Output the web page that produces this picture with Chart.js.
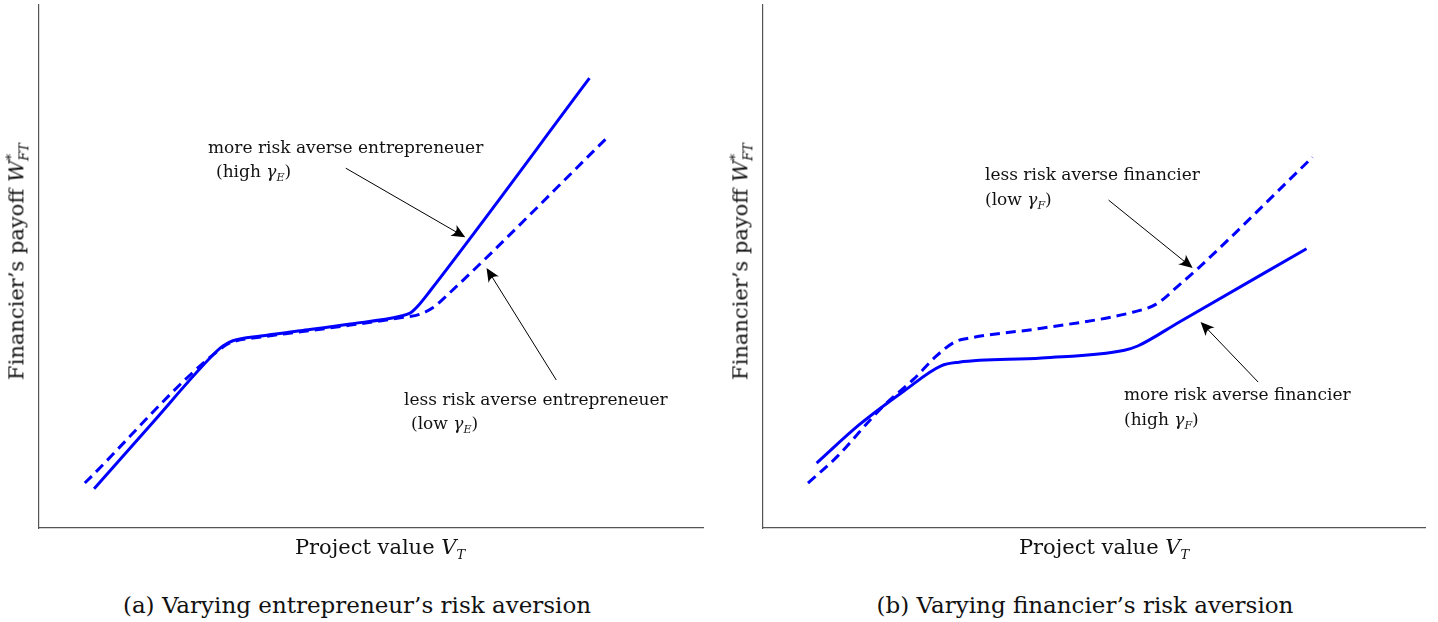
<!DOCTYPE html>
<html>
<head>
<meta charset="utf-8">
<script src="https://cdn.jsdelivr.net/npm/chart.js@4.4.1/dist/chart.umd.min.js"></script>
<style>
  body { margin: 0; background: #fff; width: 1438px; height: 622px; position: relative; overflow: hidden;
         font-family: "DejaVu Serif", "Liberation Serif", serif; color: #111; }
  .box { position: absolute; top: 0; height: 540px; }
  .txt { position: absolute; white-space: nowrap; font-size: 17px; line-height: 25px; }
  .ytitle { position: absolute; font-size: 21px; line-height: 26px; width: 300px; text-align: center; white-space: nowrap;
            transform: rotate(-90deg); transform-origin: center; }
  .xtitle { position: absolute; font-size: 21px; line-height: 26px; width: 300px; text-align: center; white-space: nowrap; }
  .cap { position: absolute; font-size: 23px; line-height: 28px; width: 600px; text-align: center; white-space: nowrap; }
  sub { font-size: 13px; font-style: italic; }
  .txt sub { font-size: 11px; }
</style>
</head>
<body>
<div class="box" style="left:30px;width:685px"><canvas id="chartA"></canvas></div>
<div class="box" style="left:754px;width:680px"><canvas id="chartB"></canvas></div>

<div class="ytitle" style="left:-132px;top:242px">Financier’s payoff <i>W</i><sup style="font-size:13px">*</sup><sub style="margin-left:-7px">FT</sub></div>
<div class="ytitle" style="left:592px;top:242px">Financier’s payoff <i>W</i><sup style="font-size:13px">*</sup><sub style="margin-left:-7px">FT</sub></div>
<div class="xtitle" style="left:230px;top:534px">Project value <i>V</i><sub>T</sub></div>
<div class="xtitle" style="left:954px;top:534px">Project value <i>V</i><sub>T</sub></div>

<div class="txt" style="left:208px;top:135px">more risk averse entrepreneuer</div>
<div class="txt" style="left:216px;top:159px">(high <i>γ</i><sub>E</sub>)</div>
<div class="txt" style="left:404px;top:387px">less risk averse entrepreneuer</div>
<div class="txt" style="left:411px;top:411px">(low <i>γ</i><sub>E</sub>)</div>
<div class="txt" style="left:985px;top:162px">less risk averse financier</div>
<div class="txt" style="left:985px;top:187px">(low <i>γ</i><sub>F</sub>)</div>
<div class="txt" style="left:1124px;top:382px">more risk averse financier</div>
<div class="txt" style="left:1124px;top:407px">(high <i>γ</i><sub>F</sub>)</div>

<div class="cap" style="left:57px;top:591px">(a) Varying entrepreneur’s risk aversion</div>
<div class="cap" style="left:785px;top:591px">(b) Varying financier’s risk aversion</div>

<script>
// (a) varying entrepreneur's risk aversion
const aHighX = [8.3, 16.8, 26.6, 27.7, 29.2, 33.4, 39.4, 46.9, 54.4, 55.9, 57.1, 59.0, 82.9];
const aHighY = [7.5, 19.7, 33.6, 34.8, 35.8, 36.7, 37.7, 39.0, 40.5, 41.1, 42.5, 45.5, 86.0];
const aLowX = [6.9, 27.7, 29.2, 33.4, 39.4, 46.9, 54.4, 57.4, 59.3, 61.2, 85.7];
const aLowY = [8.6, 34.6, 35.6, 36.5, 37.5, 38.8, 40.2, 40.9, 42.1, 44.2, 74.8];

// (b) varying financier's risk aversion
const bHighX = [8.1, 14.5, 21.3, 26.9, 29.6, 42.1, 54.6, 56.6, 62.9, 82.1];
const bHighY = [12.4, 19.7, 26.2, 31.0, 31.7, 32.5, 34.0, 34.8, 39.4, 53.4];
const bLowX = [6.8, 11.0, 18.0, 22.8, 26.2, 29.0, 31.1, 42.1, 56.0, 59.4, 62.9, 65.6, 83.0];
const bLowY = [8.6, 13.4, 23.1, 28.5, 32.9, 35.6, 36.3, 38.2, 41.3, 42.8, 46.5, 49.5, 70.9];

// annotation arrows [tailX, tailY, headX, headY] in data units
const aArrows = [[46.2, 68.8, 64.2, 55.6], [77.9, 28.3, 67.4, 49.7]];
const bArrows = [[52.2, 62.7, 64.9, 49.7], [74.8, 27.9, 66.1, 39.4]];

function pts(xs, ys) {
    return xs.map((x, i) => ({ x: x, y: ys[i] }));
}

const arrowPlugin = {
    id: 'arrows',
    afterDatasetsDraw(chart, args, opts) {
        const ctx = chart.ctx;
        const xs = chart.scales.x, ys = chart.scales.y;
        ctx.save();
        ctx.strokeStyle = '#000';
        ctx.fillStyle = '#000';
        ctx.lineWidth = 1;
        opts.list.forEach(a => {
            const x1 = xs.getPixelForValue(a[0]), y1 = ys.getPixelForValue(a[1]);
            const x2 = xs.getPixelForValue(a[2]), y2 = ys.getPixelForValue(a[3]);
            const ang = Math.atan2(y2 - y1, x2 - x1);
            const len = 15, w = 0.42;
            ctx.beginPath();
            ctx.moveTo(x1, y1);
            ctx.lineTo(x2 - Math.cos(ang) * 7, y2 - Math.sin(ang) * 7);
            ctx.stroke();
            // latex-like arrow head
            ctx.beginPath();
            ctx.moveTo(x2, y2);
            ctx.lineTo(x2 - len * Math.cos(ang - w), y2 - len * Math.sin(ang - w));
            ctx.quadraticCurveTo(x2 - len * 0.55 * Math.cos(ang), y2 - len * 0.55 * Math.sin(ang),
                x2 - len * Math.cos(ang + w), y2 - len * Math.sin(ang + w));
            ctx.closePath();
            ctx.fill();
        });
        ctx.restore();
    }
};

function makeChart(id, solid, dashed, arrows, pad) {
    const line = (data, dash) => ({
        data: data,
        borderColor: '#0000ff',
        borderWidth: 3,
        borderDash: dash,
        pointRadius: 0,
        fill: false,
        cubicInterpolationMode: 'monotone'
    });
    const axis = {
        type: 'linear', min: 0, max: 100,
        ticks: { display: false },
        grid: { display: false },
        border: { display: true, color: '#555', width: 1.2 }
    };
    return new Chart(document.getElementById(id).getContext('2d'), {
        type: 'line',
        data: { datasets: [line(solid, []), line(dashed, [10, 6])] },
        options: {
            responsive: true,
            maintainAspectRatio: false,
            animation: false,
            layout: { padding: pad },
            plugins: { legend: { display: false }, tooltip: { enabled: false }, arrows: { list: arrows } },
            scales: { x: axis, y: axis }
        },
        plugins: [arrowPlugin]
    });
}

makeChart('chartA', pts(aHighX, aHighY), pts(aLowX, aLowY), aArrows, { left: 1, top: 5, right: 12, bottom: 4 });
makeChart('chartB', pts(bHighX, bHighY), pts(bLowX, bLowY), bArrows, { left: 1, top: 5, right: 9, bottom: 4 });
</script>
</body>
</html>
